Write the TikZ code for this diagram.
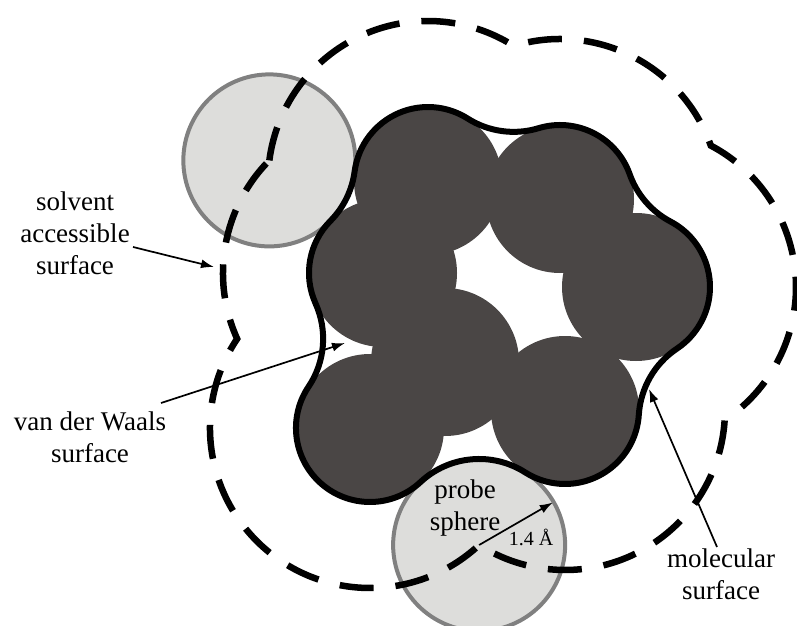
\documentclass[tikz,border=0pt]{standalone}
\usepackage{fontspec}
\setmainfont{Liberation Serif}
\usetikzlibrary{calc,arrows.meta}

\definecolor{atomfill}{RGB}{74,70,69}
\definecolor{probefill}{RGB}{221,221,219}
\definecolor{probeedge}{RGB}{128,128,128}

\begin{document}
\begin{tikzpicture}[x=1pt,y=1pt,
  atom/.style={fill=atomfill},
  probe/.style={fill=probefill,draw=probeedge,line width=4pt},
  molsurf/.style={draw=black,line width=6pt,line join=round},
  sas/.style={draw=black,line width=6.5pt,dash pattern=on 34pt off 22pt},
  pointer/.style={draw=black,line width=1.7pt,-{Latex[length=13pt,width=9pt]}},
  lbl/.style={align=center,inner sep=0pt,font=\fontsize{27}{32}\selectfont},
]
\useasboundingbox (0,0) rectangle (797,625);
\clip (0,0) rectangle (797,625);

% atom centres (van der Waals radius 74)
\coordinate (A1) at (428,444);
\coordinate (A2) at (560,426);
\coordinate (A3) at (636,338);
\coordinate (A4) at (565,215);
\coordinate (A5) at (445,263);
\coordinate (A6) at (370,197);
\coordinate (A7) at (383,352);

% probe centres touching two neighbouring atoms (probe radius 86)
\coordinate (P12) at (513.66,579.15);
\coordinate (P23) at (710.81,479.43);
\coordinate (P34) at (724.68,204.82);
\coordinate (P46) at (479.13,80.00);
\coordinate (P67) at (237.16,286.19);
\coordinate (P71) at (269.34,464.60);

% probe spheres
\draw[probe] (P71) circle[radius=86];
\draw[probe] (P46) circle[radius=86];

% atoms
\foreach \a in {A1,A2,A3,A4,A5,A6,A7}
  \fill[atom] (\a) circle[radius=74];

% molecular (solvent excluded) surface: convex atom arcs and concave probe arcs
\draw[molsurf] ($(A1)+(172.60:74)$)
  arc[start angle=172.60,end angle=57.63,radius=74]
  arc[start angle=237.63,end angle=286.83,radius=86]
  arc[start angle=106.83,end angle=19.51,radius=74]
  arc[start angle=199.51,end angle=242.12,radius=86]
  arc[start angle=62.12,end angle=-56.34,radius=74]
  arc[start angle=123.66,end angle=176.35,radius=86]
  arc[start angle=-3.65,end angle=-122.46,radius=74]
  arc[start angle=57.54,end angle=133.01,radius=86]
  arc[start angle=-46.99,end angle=-213.88,radius=74]
  arc[start angle=-33.88,end angle=24.29,radius=86]
  arc[start angle=204.29,end angle=135.27,radius=74]
  arc[start angle=-44.73,end angle=-7.40,radius=86]
  -- cycle;

% solvent accessible surface: path of the probe centre
\draw[sas] (P71)
  arc[start angle=172.60,end angle=57.63,radius=160]
  arc[start angle=106.83,end angle=19.51,radius=160]
  arc[start angle=62.12,end angle=-56.34,radius=160]
  arc[start angle=-3.65,end angle=-122.46,radius=160]
  arc[start angle=-46.99,end angle=-213.88,radius=160]
  arc[start angle=204.29,end angle=135.27,radius=160]
  -- cycle;

% labels
\node[lbl] (lsas) at (75,391.5) {solvent\\accessible\\surface};
\node[lbl] (lvdw) at (90,187.5) {van der Waals\\surface};
\node[lbl] (lprobe) at (465,116.5) {probe\\sphere};
\node[lbl,font=\fontsize{20}{24}\selectfont] (lrad) at (531,88) {1.4 Å};
\node[lbl] (lms) at (721,51) {molecular\\surface};

% pointer ends
\coordinate (sasTail) at (133,378);
\coordinate (sasTip) at (214,358);
\coordinate (vdwTail) at (161,222);
\coordinate (vdwTip) at (345,282);
\coordinate (msTail) at (717,78);
\coordinate (msTip) at (649,236);
\coordinate (radTip) at ($(P46)+(30:85)$);

\draw[pointer] (sasTail) -- (sasTip);
\draw[pointer] (vdwTail) -- (vdwTip);
\draw[pointer] (msTail) -- (msTip);
\draw[pointer] (P46) -- (radTip);
\end{tikzpicture}
\end{document}
